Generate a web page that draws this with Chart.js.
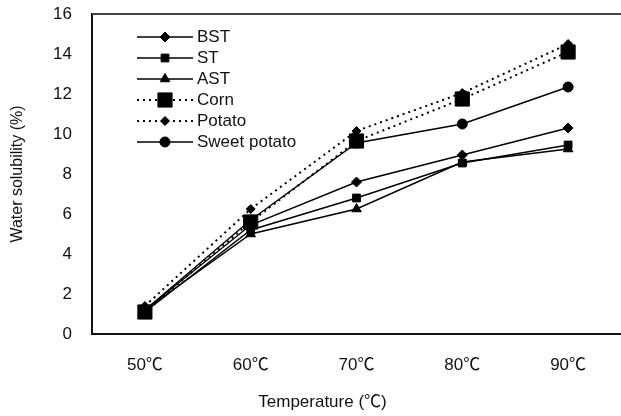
<!DOCTYPE html>
<html>
<head>
<meta charset="utf-8">
<script src="https://cdn.jsdelivr.net/npm/chart.js@4/dist/chart.umd.min.js"></script>
<style>
  html, body { margin: 0; padding: 0; background: #fff; }
  #wrap { width: 621px; height: 416px; }
</style>
</head>
<body>
<div id="wrap"><canvas id="chart"></canvas></div>
<script>
// --- data ---
const temps = ['50℃', '60℃', '70℃', '80℃', '90℃'];
const bst = [1.2, 5.45, 7.6, 8.95, 10.3];
const st = [1.1, 5.2, 6.8, 8.55, 9.45];
const ast = [1.2, 5.0, 6.25, 8.6, 9.25];
const corn = [1.1, 5.6, 9.65, 11.75, 14.1];
const potato = [1.4, 6.25, 10.15, 12.05, 14.5];
const sweetPotato = [1.2, 5.7, 9.55, 10.5, 12.35];
const yTicks = [0, 2, 4, 6, 8, 10, 12, 14, 16];
const xTitle = 'Temperature (℃)';

const FONT = '"Liberation Sans", Arial, "Noto Sans CJK SC", sans-serif';

function series(label, data, style, radius, dash) {
    return {
        label: label,
        data: data,
        borderColor: '#000',
        backgroundColor: '#000',
        borderWidth: dash ? 2 : 1.4,
        borderDash: dash || [],
        pointStyle: style,
        pointRadius: radius,
        pointHoverRadius: radius,
        pointBorderWidth: 1,
        pointBorderColor: '#000',
        pointBackgroundColor: '#000',
        tension: 0,
        fill: false
    };
}

// legend drawn inside the plot: line sample with the marker in the middle
const innerLegend = {
    id: 'innerLegend',
    afterDraw(chart) {
        const ctx = chart.ctx;
        const area = chart.chartArea;
        const x0 = area.left + 45;
        const x1 = area.left + 101;
        ctx.save();
        chart.data.datasets.forEach((ds, i) => {
            const y = area.top + 23 + i * 21;
            ctx.strokeStyle = ds.borderColor;
            ctx.lineWidth = ds.borderWidth;
            ctx.setLineDash(ds.borderDash);
            ctx.beginPath();
            ctx.moveTo(x0, y);
            ctx.lineTo(x1, y);
            ctx.stroke();
            ctx.setLineDash([]);
            ctx.fillStyle = '#000';
            ctx.lineWidth = 1;
            Chart.helpers.drawPoint(ctx, {
                pointStyle: ds.pointStyle,
                radius: ds.pointRadius,
                rotation: 0,
                borderWidth: 1
            }, (x0 + x1) / 2, y);
            ctx.fillStyle = '#111';
            ctx.font = '17px ' + FONT;
            ctx.textBaseline = 'middle';
            ctx.textAlign = 'left';
            ctx.fillText(ds.label, x1 + 4, y);
        });
        ctx.restore();
    }
};

// top frame line of the plot area and the x axis title (centred on the page)
const frameAndTitle = {
    id: 'frameAndTitle',
    afterDraw(chart) {
        const a = chart.chartArea;
        const ctx = chart.ctx;
        ctx.save();
        ctx.strokeStyle = '#444';
        ctx.lineWidth = 2;
        ctx.beginPath();
        ctx.moveTo(a.left, a.top);
        ctx.lineTo(a.right, a.top);
        ctx.stroke();
        ctx.fillStyle = '#111';
        ctx.font = '17px ' + FONT;
        ctx.textAlign = 'center';
        ctx.textBaseline = 'middle';
        ctx.fillText(xTitle, chart.width / 2 + 12, chart.height - 14);
        ctx.restore();
    }
};

new Chart(document.getElementById('chart'), {
    type: 'line',
    data: {
        labels: temps,
        datasets: [
            series('BST', bst, 'rectRot', 5),
            series('ST', st, 'rect', 5.5),
            series('AST', ast, 'triangle', 5.5),
            series('Corn', corn, 'rect', 10, [2, 4]),
            series('Potato', potato, 'rectRot', 4.5, [2, 4]),
            series('Sweet potato', sweetPotato, 'circle', 5)
        ]
    },
    options: {
        responsive: true,
        maintainAspectRatio: false,
        animation: false,
        layout: { autoPadding: false, padding: { top: 14, right: 0, bottom: 0, left: 0 } },
        plugins: {
            legend: { display: false },
            tooltip: { enabled: false }
        },
        scales: {
            x: {
                offset: true,
                grid: { display: false, drawTicks: false },
                border: { display: true, color: '#111', width: 2 },
                ticks: { color: '#111', padding: 21, font: { family: FONT, size: 17 } },
                afterFit(scale) {
                    scale.height = 82;
                    scale.paddingLeft = 0;
                    scale.paddingRight = 0;
                }
            },
            y: {
                min: 0,
                max: 16,
                afterBuildTicks(scale) { scale.ticks = yTicks.map(v => ({ value: v })); },
                grid: { display: false, drawTicks: false },
                border: { display: true, color: '#111', width: 2 },
                ticks: { color: '#111', padding: 20, font: { family: FONT, size: 17 } },
                title: {
                    display: true,
                    text: 'Water solubility (%)',
                    color: '#111',
                    padding: { top: 8, bottom: 0 },
                    font: { family: FONT, size: 16 }
                },
                afterFit(scale) {
                    scale.width = 92;
                    scale.paddingTop = 0;
                    scale.paddingBottom = 0;
                }
            }
        }
    },
    plugins: [innerLegend, frameAndTitle]
});
</script>
</body>
</html>
